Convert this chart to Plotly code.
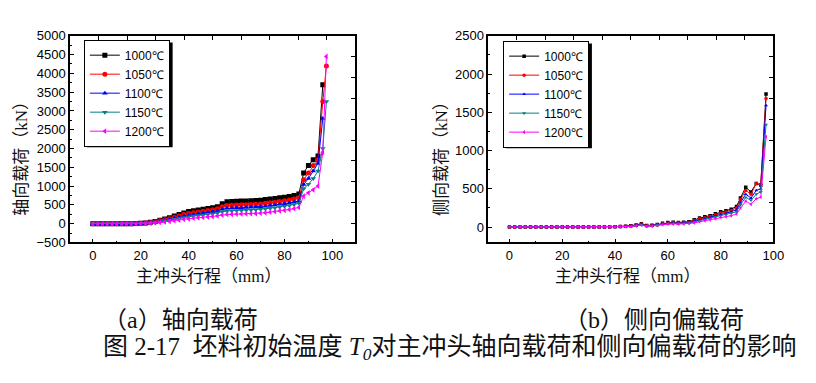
import plotly.graph_objects as go

W, H = 816, 383

# ---------------- data ----------------
series_names = ["1000℃", "1050℃", "1100℃", "1150℃", "1200℃"]
colors = ["#000000", "#FF0000", "#0000FF", "#008080", "#FF00FF"]
symbols = ["square", "circle", "triangle-up", "triangle-down", "triangle-left"]

# (a) axial load, kN
x_axial = [0, 2, 4, 6, 8, 10, 12, 14, 16, 18, 20, 22, 24, 26, 28, 30, 32, 34, 36, 38,
           40, 42, 44, 46, 48, 50, 52, 54, 56, 58, 60, 62, 64, 66, 68, 70, 72, 74, 76, 78,
           80, 82, 84, 86, 88, 90, 92, 94, 96, 97.5]
axial_1000 = [0, 0, 0, 0, 0, 0, 0, 0, 0, 5, 10, 20, 35, 60, 90, 120, 155, 200, 240, 280,
              320, 340, 360, 380, 400, 420, 450, 530, 580, 590, 595, 600, 605, 610, 615, 625, 640, 655, 670, 690,
              705, 725, 750, 790, 1350, 1550, 1700, 1800, 3700, None]
axial_1050 = [0, 0, 0, 0, 0, 0, 0, 0, 0, 3, 8, 15, 28, 50, 75, 100, 130, 170, 205, 240,
              270, 290, 310, 330, 350, 370, 395, 450, 480, 490, 495, 500, 505, 510, 515, 525, 540, 555, 570, 590,
              610, 630, 655, 690, 1170, 1350, 1550, 1700, 3250, 4200]
axial_1100 = [0, 0, 0, 0, 0, 0, 0, 0, 0, 2, 5, 12, 22, 40, 60, 85, 110, 140, 170, 200,
              225, 245, 265, 280, 300, 315, 340, 385, 410, 415, 420, 425, 430, 435, 440, 450, 465, 480, 495, 515,
              530, 550, 575, 605, 1040, 1200, 1400, 1600, 2800, None]
axial_1150 = [0, 0, 0, 0, 0, 0, 0, 0, 0, 0, 3, 8, 16, 30, 48, 68, 90, 115, 140, 165,
              185, 200, 215, 230, 245, 260, 285, 320, 340, 345, 350, 355, 360, 365, 370, 380, 395, 410, 425, 445,
              465, 485, 510, 540, 930, 1050, 1200, 1400, 2000, 3250]
axial_1200 = [0, 0, 0, 0, 0, 0, 0, 0, 0, 0, 2, 5, 10, 20, 32, 45, 60, 78, 95, 115,
              130, 145, 155, 165, 178, 190, 205, 230, 245, 250, 255, 258, 262, 266, 270, 278, 290, 305, 320, 340,
              355, 375, 400, 430, 730, 820, 900, 1000, 1900, 4450]
axial = [axial_1000, axial_1050, axial_1100, axial_1150, axial_1200]

# (b) lateral eccentric load, kN
x_lateral = [0, 2, 4, 6, 8, 10, 12, 14, 16, 18, 20, 22, 24, 26, 28, 30, 32, 34, 36, 38,
             40, 42, 44, 46, 48, 50, 52, 54, 56, 58, 60, 62, 64, 66, 68, 70, 72, 74, 76, 78,
             80, 82, 84, 86, 87.5, 89.5, 91.5, 93.5, 95.2, 97.2]
lateral_1000 = [0, 0, 0, 0, 0, 0, 0, 0, 0, 0, 0, 0, 0, 0, 0, 0, 0, 0, 0, 2,
                5, 8, 12, 18, 28, 45, 20, 25, 35, 50, 60, 62, 60, 62, 70, 95, 120, 135, 150, 175,
                200, 215, 235, 270, 380, 520, 460, 570, 550, 1740]
lateral_1050 = [0, 0, 0, 0, 0, 0, 0, 0, 0, 0, 0, 0, 0, 0, 0, 0, 0, 0, 0, 2,
                4, 7, 10, 15, 25, 40, 18, 22, 32, 45, 55, 58, 56, 58, 65, 85, 108, 122, 138, 160,
                185, 198, 218, 250, 360, 480, 430, 570, 560, 1680]
lateral_1100 = [0, 0, 0, 0, 0, 0, 0, 0, 0, 0, 0, 0, 0, 0, 0, 0, 0, 0, 0, 1,
                3, 6, 9, 12, 20, 35, 15, 18, 28, 40, 50, 52, 50, 52, 58, 75, 95, 110, 125, 145,
                165, 180, 200, 225, 320, 430, 380, 480, 500, 1590]
lateral_1150 = [0, 0, 0, 0, 0, 0, 0, 0, 0, 0, 0, 0, 0, 0, 0, 0, 0, 0, 0, 1,
                3, 5, 7, 10, 18, 30, 12, 15, 25, 36, 45, 47, 45, 47, 52, 68, 85, 98, 112, 130,
                150, 163, 180, 200, 290, 390, 350, 430, 460, 1340]
lateral_1200 = [0, 0, 0, 0, 0, 0, 0, 0, 0, 0, 0, 0, 0, 0, 0, 0, 0, 0, 0, 0,
                2, 4, 6, 8, 15, 25, 10, 12, 22, 32, 40, 42, 40, 42, 46, 55, 70, 82, 95, 110,
                125, 135, 150, 170, 250, 340, 300, 370, 390, 1180]
lateral = [lateral_1000, lateral_1050, lateral_1100, lateral_1150, lateral_1200]

x_ticks = [0, 20, 40, 60, 80, 100]
y_ticks_a = [-500, 0, 500, 1000, 1500, 2000, 2500, 3000, 3500, 4000, 4500, 5000]
y_ticks_b = [0, 500, 1000, 1500, 2000, 2500]

x_title = "主冲头行程（mm）"
y_title_a = "轴向载荷（kN）"
y_title_b = "侧向载荷（kN）"
cap_a = "（a）轴向载荷"
cap_b = "（b）侧向偏载荷"
cap_main = "图 2-17  坯料初始温度 <i>T</i><sub><i>0</i></sub>对主冲头轴向载荷和侧向偏载荷的影响"

# ---------------- figure ----------------
def px(x):
    return x / W

def py(y):
    return 1 - y / H

fig = go.Figure()

for i in range(5):
    fig.add_trace(go.Scatter(
        x=x_axial, y=axial[i], name=series_names[i], mode="lines+markers",
        line=dict(color=colors[i], width=1),
        marker=dict(symbol=symbols[i], size=5, color=colors[i]),
        xaxis="x", yaxis="y", legend="legend", connectgaps=False))
for i in range(5):
    fig.add_trace(go.Scatter(
        x=x_lateral, y=lateral[i], name=series_names[i], mode="lines+markers",
        line=dict(color=colors[i], width=1),
        marker=dict(symbol=symbols[i], size=3.5, color=colors[i]),
        xaxis="x2", yaxis="y2", legend="legend2"))

# empty helper traces so the decorative top/right tick axes are drawn
for xa, ya in [("x3", "y"), ("x", "y3"), ("x4", "y2"), ("x2", "y4")]:
    fig.add_trace(go.Scatter(x=[None], y=[None], xaxis=xa, yaxis=ya,
                             showlegend=False, hoverinfo="skip"))

dom_a = [px(71), px(360)]
dom_b = [px(495), px(784)]
dom_y = [py(245), py(30)]

tickfont = dict(family="Arial, Liberation Sans, sans-serif", size=13, color="#000")
axline = dict(showline=True, linecolor="#000", linewidth=1.5, mirror=True,
              ticks="inside", tickcolor="#000", tickwidth=1, ticklen=4,
              showgrid=False, zeroline=False, tickfont=tickfont)

deco = dict(ticks="inside", ticklen=4, tickcolor="#000", showticklabels=False,
            showline=False, showgrid=False, zeroline=False)

fig.update_layout(
    width=W, height=H, margin=dict(l=0, r=0, t=0, b=0),
    paper_bgcolor="white", plot_bgcolor="white",
    xaxis=dict(domain=dom_a, anchor="y", range=[-9.5, 109.5], tickvals=x_ticks,
               minor=dict(dtick=10, tick0=0, ticks="inside", ticklen=2, tickcolor="#000"), **axline),
    yaxis=dict(domain=dom_y, anchor="x", range=[-500, 5000], tickvals=y_ticks_a,
               minor=dict(dtick=250, tick0=0, ticks="inside", ticklen=2, tickcolor="#000"), **axline),
    xaxis2=dict(domain=dom_b, anchor="y2", range=[-8, 100], tickvals=x_ticks,
                minor=dict(dtick=10, tick0=0, ticks="inside", ticklen=2, tickcolor="#000"), **axline),
    yaxis2=dict(domain=dom_y, anchor="x2", range=[-200, 2500], tickvals=y_ticks_b,
                minor=dict(dtick=250, tick0=0, ticks="inside", ticklen=2, tickcolor="#000"), **axline),
    xaxis3=dict(overlaying="x", anchor="y", side="top", range=[0, 10], tick0=1, dtick=1, **deco),
    yaxis3=dict(overlaying="y", anchor="x", side="right", range=[0, 9.908], tick0=0.908, dtick=1, **deco),
    xaxis4=dict(overlaying="x2", anchor="y2", side="top", range=[0, 10], tick0=1, dtick=1, **deco),
    yaxis4=dict(overlaying="y2", anchor="x2", side="right", range=[0, 9.908], tick0=0.908, dtick=1, **deco),
    legend=dict(x=px(85), y=py(34), xanchor="left", yanchor="top",
                bgcolor="white", bordercolor="#000", borderwidth=1,
                font=dict(family="Arial, Liberation Sans, sans-serif", size=12, color="#000"),
                itemwidth=30, tracegroupgap=0),
    legend2=dict(x=px(510), y=py(35), xanchor="left", yanchor="top",
                 bgcolor="white", bordercolor="#000", borderwidth=1,
                 font=dict(family="Arial, Liberation Sans, sans-serif", size=12, color="#000"),
                 itemwidth=30, tracegroupgap=0),
    showlegend=True,
)

# legend drop shadows
for (lx, ly) in [(85, 34), (510, 35)]:
    fig.add_shape(type="rect", xref="paper", yref="paper",
                  x0=px(lx + 3), x1=px(lx + 3 + 87), y0=py(ly + 3), y1=py(ly + 3 + 109),
                  fillcolor="#000", line=dict(width=0), layer="above")

serif = "Liberation Serif, Noto Sans CJK SC, serif"
def ann(text, x, y, size, angle=0):
    fig.add_annotation(text=text, x=px(x), y=py(y), xref="paper", yref="paper",
                       xanchor="center", yanchor="middle", showarrow=False, textangle=angle,
                       font=dict(family=serif, size=size, color="#111"))

ann(y_title_a, 21, 153, 17, -90)
ann(y_title_b, 447, 153, 17, -90)
ann(x_title, 211, 280, 17)
ann(x_title, 636, 280, 17)
ann(cap_a, 183, 326, 24)
ann(cap_b, 663, 326, 24)
ann(cap_main, 456, 355, 25)

fig.write_html("out.html", config={"displayModeBar": False},
               post_script="document.body.style.margin='0';document.body.style.padding='0';"
                           "document.documentElement.style.overflow='hidden';")
